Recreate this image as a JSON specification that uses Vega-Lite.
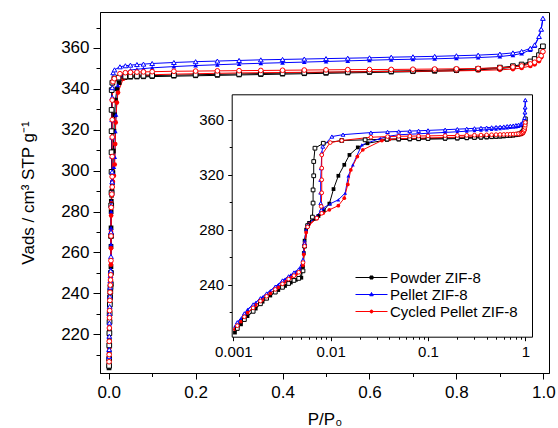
{
"$schema":"https://vega.github.io/schema/vega-lite/v6.json",
"width":449,"height":361,
"autosize":"none",
"padding":{"left":100,"top":12,"right":9,"bottom":55},
"config":{"view":{"stroke":"black","strokeWidth":1},
"axis":{"labelFont":"Liberation Sans","titleFont":"Liberation Sans","labelColor":"black","titleColor":"black","domainColor":"black","tickColor":"black","grid":false,"titleFontWeight":"normal","domainWidth":1,"tickWidth":1}},
"datasets":{"d":[
{"s":"Powder","b":"ads","P":0.0008,"V":203.5},{"s":"Powder","b":"ads","P":0.00104,"V":205},{"s":"Powder","b":"ads","P":0.0012,"V":211},{"s":"Powder","b":"ads","P":0.0014,"V":217},{"s":"Powder","b":"ads","P":0.0017,"V":222.5},{"s":"Powder","b":"ads","P":0.002,"V":227.5},{"s":"Powder","b":"ads","P":0.0024,"V":232},{"s":"Powder","b":"ads","P":0.0029,"V":236},{"s":"Powder","b":"ads","P":0.0034,"V":239},{"s":"Powder","b":"ads","P":0.0039,"V":241.5},{"s":"Powder","b":"ads","P":0.0044,"V":243.5},{"s":"Powder","b":"ads","P":0.005,"V":245},{"s":"Powder","b":"ads","P":0.0052,"V":253},{"s":"Powder","b":"ads","P":0.0053,"V":263},{"s":"Powder","b":"ads","P":0.0054,"V":272},{"s":"Powder","b":"ads","P":0.0056,"V":280},{"s":"Powder","b":"ads","P":0.006,"V":285},{"s":"Powder","b":"ads","P":0.0068,"V":288},{"s":"Powder","b":"ads","P":0.0075,"V":290},{"s":"Powder","b":"ads","P":0.0085,"V":294},{"s":"Powder","b":"ads","P":0.0097,"V":299},{"s":"Powder","b":"ads","P":0.0107,"V":309.6},{"s":"Powder","b":"ads","P":0.012,"V":319.3},{"s":"Powder","b":"ads","P":0.0138,"V":327.3},{"s":"Powder","b":"ads","P":0.0156,"V":334.5},{"s":"Powder","b":"ads","P":0.019,"V":340},{"s":"Powder","b":"ads","P":0.0239,"V":343},{"s":"Powder","b":"ads","P":0.0378,"V":345.5},
{"s":"Powder","b":"ads","P":0.05,"V":345.7},{"s":"Powder","b":"ads","P":0.065,"V":345.8},{"s":"Powder","b":"ads","P":0.08,"V":345.9},{"s":"Powder","b":"ads","P":0.1,"V":346.0},{"s":"Powder","b":"ads","P":0.15,"V":346.2},{"s":"Powder","b":"ads","P":0.2,"V":346.4},{"s":"Powder","b":"ads","P":0.25,"V":346.6},{"s":"Powder","b":"ads","P":0.3,"V":346.8},{"s":"Powder","b":"ads","P":0.35,"V":347.0},{"s":"Powder","b":"ads","P":0.4,"V":347.2},{"s":"Powder","b":"ads","P":0.45,"V":347.4},{"s":"Powder","b":"ads","P":0.5,"V":347.6},{"s":"Powder","b":"ads","P":0.55,"V":347.8},{"s":"Powder","b":"ads","P":0.6,"V":348.0},{"s":"Powder","b":"ads","P":0.65,"V":348.2},{"s":"Powder","b":"ads","P":0.7,"V":348.4},{"s":"Powder","b":"ads","P":0.75,"V":348.6},{"s":"Powder","b":"ads","P":0.8,"V":348.9},{"s":"Powder","b":"ads","P":0.85,"V":349.3},{"s":"Powder","b":"ads","P":0.9,"V":349.9},{"s":"Powder","b":"ads","P":0.93,"V":350.6},{"s":"Powder","b":"ads","P":0.95,"V":351.4},{"s":"Powder","b":"ads","P":0.97,"V":352.8},{"s":"Powder","b":"ads","P":0.98,"V":354.0},{"s":"Powder","b":"ads","P":0.99,"V":356.0},{"s":"Powder","b":"ads","P":0.995,"V":358.3},{"s":"Powder","b":"ads","P":0.999,"V":360.8},
{"s":"Powder","b":"des","P":0.0009,"V":204.5},{"s":"Powder","b":"des","P":0.0011,"V":208},{"s":"Powder","b":"des","P":0.0013,"V":214.5},{"s":"Powder","b":"des","P":0.0016,"V":220.5},{"s":"Powder","b":"des","P":0.0019,"V":226},{"s":"Powder","b":"des","P":0.0022,"V":230},{"s":"Powder","b":"des","P":0.0027,"V":234.5},{"s":"Powder","b":"des","P":0.0032,"V":238},{"s":"Powder","b":"des","P":0.0037,"V":240.8},{"s":"Powder","b":"des","P":0.0042,"V":243},{"s":"Powder","b":"des","P":0.0047,"V":244.5},{"s":"Powder","b":"des","P":0.0052,"V":250},{"s":"Powder","b":"des","P":0.0054,"V":268},{"s":"Powder","b":"des","P":0.0058,"V":283},{"s":"Powder","b":"des","P":0.0065,"V":289.2},{"s":"Powder","b":"des","P":0.0066,"V":299.4},{"s":"Powder","b":"des","P":0.0066,"V":309},{"s":"Powder","b":"des","P":0.0067,"V":319.3},{"s":"Powder","b":"des","P":0.0067,"V":329.7},{"s":"Powder","b":"des","P":0.0069,"V":339.4},{"s":"Powder","b":"des","P":0.0084,"V":343},{"s":"Powder","b":"des","P":0.013,"V":345},{"s":"Powder","b":"des","P":0.0226,"V":345.5},{"s":"Powder","b":"des","P":0.038,"V":346},
{"s":"Powder","b":"des","P":0.05,"V":346.2},{"s":"Powder","b":"des","P":0.065,"V":346.3},{"s":"Powder","b":"des","P":0.08,"V":346.4},{"s":"Powder","b":"des","P":0.1,"V":346.5},{"s":"Powder","b":"des","P":0.15,"V":346.7},{"s":"Powder","b":"des","P":0.2,"V":346.9},{"s":"Powder","b":"des","P":0.25,"V":347.1},{"s":"Powder","b":"des","P":0.3,"V":347.3},{"s":"Powder","b":"des","P":0.35,"V":347.5},{"s":"Powder","b":"des","P":0.4,"V":347.7},{"s":"Powder","b":"des","P":0.45,"V":347.9},{"s":"Powder","b":"des","P":0.5,"V":348.1},{"s":"Powder","b":"des","P":0.55,"V":348.3},{"s":"Powder","b":"des","P":0.6,"V":348.5},{"s":"Powder","b":"des","P":0.65,"V":348.7},{"s":"Powder","b":"des","P":0.7,"V":348.9},{"s":"Powder","b":"des","P":0.75,"V":349.1},{"s":"Powder","b":"des","P":0.8,"V":349.4},{"s":"Powder","b":"des","P":0.85,"V":349.8},{"s":"Powder","b":"des","P":0.9,"V":350.4},{"s":"Powder","b":"des","P":0.93,"V":351.1},{"s":"Powder","b":"des","P":0.95,"V":351.9},{"s":"Powder","b":"des","P":0.97,"V":353.4},{"s":"Powder","b":"des","P":0.98,"V":354.6},{"s":"Powder","b":"des","P":0.99,"V":356.5},{"s":"Powder","b":"des","P":0.995,"V":358.6},{"s":"Powder","b":"des","P":0.999,"V":360.8},
{"s":"Pellet","b":"ads","P":0.0008,"V":207},{"s":"Pellet","b":"ads","P":0.00104,"V":209.7},{"s":"Pellet","b":"ads","P":0.0012,"V":215},{"s":"Pellet","b":"ads","P":0.0014,"V":222},{"s":"Pellet","b":"ads","P":0.0017,"V":227},{"s":"Pellet","b":"ads","P":0.002,"V":231},{"s":"Pellet","b":"ads","P":0.0024,"V":235.5},{"s":"Pellet","b":"ads","P":0.0029,"V":240},{"s":"Pellet","b":"ads","P":0.0034,"V":244},{"s":"Pellet","b":"ads","P":0.0039,"V":247},{"s":"Pellet","b":"ads","P":0.0044,"V":249.5},{"s":"Pellet","b":"ads","P":0.0049,"V":251.8},{"s":"Pellet","b":"ads","P":0.0052,"V":256},{"s":"Pellet","b":"ads","P":0.0053,"V":264},{"s":"Pellet","b":"ads","P":0.0054,"V":272},{"s":"Pellet","b":"ads","P":0.0056,"V":280},{"s":"Pellet","b":"ads","P":0.006,"V":285},{"s":"Pellet","b":"ads","P":0.0072,"V":290},{"s":"Pellet","b":"ads","P":0.0084,"V":295.8},{"s":"Pellet","b":"ads","P":0.0099,"V":298.9},{"s":"Pellet","b":"ads","P":0.012,"V":301.8},{"s":"Pellet","b":"ads","P":0.0141,"V":306.7},{"s":"Pellet","b":"ads","P":0.0152,"V":319.3},{"s":"Pellet","b":"ads","P":0.0169,"V":327.3},{"s":"Pellet","b":"ads","P":0.0209,"V":341.8},{"s":"Pellet","b":"ads","P":0.0323,"V":346.5},{"s":"Pellet","b":"ads","P":0.04,"V":348.2},
{"s":"Pellet","b":"ads","P":0.05,"V":349.2},{"s":"Pellet","b":"ads","P":0.065,"V":349.6},{"s":"Pellet","b":"ads","P":0.08,"V":349.9},{"s":"Pellet","b":"ads","P":0.1,"V":350.3},{"s":"Pellet","b":"ads","P":0.15,"V":350.9},{"s":"Pellet","b":"ads","P":0.2,"V":351.4},{"s":"Pellet","b":"ads","P":0.25,"V":351.8},{"s":"Pellet","b":"ads","P":0.3,"V":352.2},{"s":"Pellet","b":"ads","P":0.35,"V":352.5},{"s":"Pellet","b":"ads","P":0.4,"V":352.8},{"s":"Pellet","b":"ads","P":0.45,"V":353.1},{"s":"Pellet","b":"ads","P":0.5,"V":353.4},{"s":"Pellet","b":"ads","P":0.55,"V":353.7},{"s":"Pellet","b":"ads","P":0.6,"V":354.0},{"s":"Pellet","b":"ads","P":0.65,"V":354.3},{"s":"Pellet","b":"ads","P":0.7,"V":354.5},{"s":"Pellet","b":"ads","P":0.75,"V":354.7},{"s":"Pellet","b":"ads","P":0.8,"V":355.0},{"s":"Pellet","b":"ads","P":0.85,"V":355.3},{"s":"Pellet","b":"ads","P":0.9,"V":355.8},{"s":"Pellet","b":"ads","P":0.93,"V":356.5},{"s":"Pellet","b":"ads","P":0.95,"V":357.3},{"s":"Pellet","b":"ads","P":0.97,"V":359.0},{"s":"Pellet","b":"ads","P":0.98,"V":361.0},{"s":"Pellet","b":"ads","P":0.99,"V":365.4},{"s":"Pellet","b":"ads","P":0.995,"V":369.0},{"s":"Pellet","b":"ads","P":0.999,"V":374.5},
{"s":"Pellet","b":"des","P":0.0009,"V":209},{"s":"Pellet","b":"des","P":0.0011,"V":212.5},{"s":"Pellet","b":"des","P":0.0013,"V":219},{"s":"Pellet","b":"des","P":0.0016,"V":225.5},{"s":"Pellet","b":"des","P":0.0019,"V":230},{"s":"Pellet","b":"des","P":0.0022,"V":233.5},{"s":"Pellet","b":"des","P":0.0027,"V":238.5},{"s":"Pellet","b":"des","P":0.0032,"V":243},{"s":"Pellet","b":"des","P":0.0037,"V":246},{"s":"Pellet","b":"des","P":0.0042,"V":248.8},{"s":"Pellet","b":"des","P":0.0047,"V":251},{"s":"Pellet","b":"des","P":0.0052,"V":258},{"s":"Pellet","b":"des","P":0.0054,"V":270},{"s":"Pellet","b":"des","P":0.0058,"V":283},{"s":"Pellet","b":"des","P":0.0072,"V":289},{"s":"Pellet","b":"des","P":0.008,"V":294.5},{"s":"Pellet","b":"des","P":0.0079,"V":299.4},{"s":"Pellet","b":"des","P":0.0079,"V":307.1},{"s":"Pellet","b":"des","P":0.0079,"V":316.4},{"s":"Pellet","b":"des","P":0.008,"V":324.9},{"s":"Pellet","b":"des","P":0.0081,"V":335.8},{"s":"Pellet","b":"des","P":0.0083,"V":340.6},{"s":"Pellet","b":"des","P":0.0103,"V":347.9},{"s":"Pellet","b":"des","P":0.0134,"V":349.3},{"s":"Pellet","b":"des","P":0.0259,"V":350.8},{"s":"Pellet","b":"des","P":0.0384,"V":351.3},
{"s":"Pellet","b":"des","P":0.05,"V":351.6},{"s":"Pellet","b":"des","P":0.065,"V":351.9},{"s":"Pellet","b":"des","P":0.08,"V":352.1},{"s":"Pellet","b":"des","P":0.1,"V":352.4},{"s":"Pellet","b":"des","P":0.15,"V":352.9},{"s":"Pellet","b":"des","P":0.2,"V":353.3},{"s":"Pellet","b":"des","P":0.25,"V":353.6},{"s":"Pellet","b":"des","P":0.3,"V":353.9},{"s":"Pellet","b":"des","P":0.35,"V":354.2},{"s":"Pellet","b":"des","P":0.4,"V":354.4},{"s":"Pellet","b":"des","P":0.45,"V":354.6},{"s":"Pellet","b":"des","P":0.5,"V":354.8},{"s":"Pellet","b":"des","P":0.55,"V":355.0},{"s":"Pellet","b":"des","P":0.6,"V":355.2},{"s":"Pellet","b":"des","P":0.65,"V":355.5},{"s":"Pellet","b":"des","P":0.7,"V":355.7},{"s":"Pellet","b":"des","P":0.75,"V":355.9},{"s":"Pellet","b":"des","P":0.8,"V":356.2},{"s":"Pellet","b":"des","P":0.85,"V":356.5},{"s":"Pellet","b":"des","P":0.9,"V":357.0},{"s":"Pellet","b":"des","P":0.93,"V":357.6},{"s":"Pellet","b":"des","P":0.95,"V":358.3},{"s":"Pellet","b":"des","P":0.97,"V":359.8},{"s":"Pellet","b":"des","P":0.98,"V":361.5},{"s":"Pellet","b":"des","P":0.99,"V":365.6},{"s":"Pellet","b":"des","P":0.995,"V":369.2},{"s":"Pellet","b":"des","P":0.999,"V":374.5},
{"s":"Cycled","b":"ads","P":0.0008,"V":205},{"s":"Cycled","b":"ads","P":0.00104,"V":207.5},{"s":"Cycled","b":"ads","P":0.0012,"V":213},{"s":"Cycled","b":"ads","P":0.0014,"V":219.5},{"s":"Cycled","b":"ads","P":0.0017,"V":225},{"s":"Cycled","b":"ads","P":0.002,"V":229},{"s":"Cycled","b":"ads","P":0.0024,"V":233.5},{"s":"Cycled","b":"ads","P":0.0029,"V":238},{"s":"Cycled","b":"ads","P":0.0034,"V":242},{"s":"Cycled","b":"ads","P":0.0039,"V":245},{"s":"Cycled","b":"ads","P":0.0044,"V":247.5},{"s":"Cycled","b":"ads","P":0.0049,"V":250},{"s":"Cycled","b":"ads","P":0.0052,"V":254},{"s":"Cycled","b":"ads","P":0.0053,"V":262},{"s":"Cycled","b":"ads","P":0.0054,"V":270},{"s":"Cycled","b":"ads","P":0.0056,"V":278},{"s":"Cycled","b":"ads","P":0.006,"V":284},{"s":"Cycled","b":"ads","P":0.0072,"V":288},{"s":"Cycled","b":"ads","P":0.0084,"V":292.1},{"s":"Cycled","b":"ads","P":0.0097,"V":294.5},{"s":"Cycled","b":"ads","P":0.012,"V":297.5},{"s":"Cycled","b":"ads","P":0.0138,"V":303},{"s":"Cycled","b":"ads","P":0.015,"V":313},{"s":"Cycled","b":"ads","P":0.0161,"V":323.6},{"s":"Cycled","b":"ads","P":0.0188,"V":333.3},{"s":"Cycled","b":"ads","P":0.0214,"V":338.2},{"s":"Cycled","b":"ads","P":0.0336,"V":345},{"s":"Cycled","b":"ads","P":0.04,"V":345.8},
{"s":"Cycled","b":"ads","P":0.05,"V":346.3},{"s":"Cycled","b":"ads","P":0.065,"V":346.5},{"s":"Cycled","b":"ads","P":0.08,"V":346.7},{"s":"Cycled","b":"ads","P":0.1,"V":346.9},{"s":"Cycled","b":"ads","P":0.15,"V":347.2},{"s":"Cycled","b":"ads","P":0.2,"V":347.4},{"s":"Cycled","b":"ads","P":0.25,"V":347.6},{"s":"Cycled","b":"ads","P":0.3,"V":347.8},{"s":"Cycled","b":"ads","P":0.35,"V":347.9},{"s":"Cycled","b":"ads","P":0.4,"V":348.0},{"s":"Cycled","b":"ads","P":0.45,"V":348.1},{"s":"Cycled","b":"ads","P":0.5,"V":348.2},{"s":"Cycled","b":"ads","P":0.55,"V":348.3},{"s":"Cycled","b":"ads","P":0.6,"V":348.4},{"s":"Cycled","b":"ads","P":0.65,"V":348.5},{"s":"Cycled","b":"ads","P":0.7,"V":348.6},{"s":"Cycled","b":"ads","P":0.75,"V":348.7},{"s":"Cycled","b":"ads","P":0.8,"V":348.8},{"s":"Cycled","b":"ads","P":0.85,"V":349.0},{"s":"Cycled","b":"ads","P":0.9,"V":349.3},{"s":"Cycled","b":"ads","P":0.93,"V":349.7},{"s":"Cycled","b":"ads","P":0.95,"V":350.2},{"s":"Cycled","b":"ads","P":0.97,"V":351.2},{"s":"Cycled","b":"ads","P":0.98,"V":352.0},{"s":"Cycled","b":"ads","P":0.99,"V":353.6},{"s":"Cycled","b":"ads","P":0.995,"V":355.5},{"s":"Cycled","b":"ads","P":0.999,"V":358.2},
{"s":"Cycled","b":"des","P":0.0009,"V":206.5},{"s":"Cycled","b":"des","P":0.0011,"V":210},{"s":"Cycled","b":"des","P":0.0013,"V":216.5},{"s":"Cycled","b":"des","P":0.0016,"V":223},{"s":"Cycled","b":"des","P":0.0019,"V":228},{"s":"Cycled","b":"des","P":0.0022,"V":231.5},{"s":"Cycled","b":"des","P":0.0027,"V":236.5},{"s":"Cycled","b":"des","P":0.0032,"V":240.5},{"s":"Cycled","b":"des","P":0.0037,"V":244},{"s":"Cycled","b":"des","P":0.0042,"V":246.5},{"s":"Cycled","b":"des","P":0.0047,"V":249},{"s":"Cycled","b":"des","P":0.0052,"V":256},{"s":"Cycled","b":"des","P":0.0054,"V":268},{"s":"Cycled","b":"des","P":0.0058,"V":282},{"s":"Cycled","b":"des","P":0.0072,"V":288.5},{"s":"Cycled","b":"des","P":0.0081,"V":292},{"s":"Cycled","b":"des","P":0.008,"V":297},{"s":"Cycled","b":"des","P":0.0081,"V":306.9},{"s":"Cycled","b":"des","P":0.0081,"V":316.4},{"s":"Cycled","b":"des","P":0.0081,"V":324.9},{"s":"Cycled","b":"des","P":0.0081,"V":334.5},{"s":"Cycled","b":"des","P":0.0099,"V":343.5},{"s":"Cycled","b":"des","P":0.013,"V":345},{"s":"Cycled","b":"des","P":0.0259,"V":347.4},{"s":"Cycled","b":"des","P":0.0384,"V":347.9},
{"s":"Cycled","b":"des","P":0.05,"V":348.1},{"s":"Cycled","b":"des","P":0.065,"V":348.2},{"s":"Cycled","b":"des","P":0.08,"V":348.3},{"s":"Cycled","b":"des","P":0.1,"V":348.4},{"s":"Cycled","b":"des","P":0.15,"V":348.6},{"s":"Cycled","b":"des","P":0.2,"V":348.7},{"s":"Cycled","b":"des","P":0.25,"V":348.8},{"s":"Cycled","b":"des","P":0.3,"V":348.9},{"s":"Cycled","b":"des","P":0.35,"V":349.0},{"s":"Cycled","b":"des","P":0.4,"V":349.1},{"s":"Cycled","b":"des","P":0.45,"V":349.2},{"s":"Cycled","b":"des","P":0.5,"V":349.3},{"s":"Cycled","b":"des","P":0.55,"V":349.4},{"s":"Cycled","b":"des","P":0.6,"V":349.45},{"s":"Cycled","b":"des","P":0.65,"V":349.5},{"s":"Cycled","b":"des","P":0.7,"V":349.6},{"s":"Cycled","b":"des","P":0.75,"V":349.7},{"s":"Cycled","b":"des","P":0.8,"V":349.8},{"s":"Cycled","b":"des","P":0.85,"V":350.0},{"s":"Cycled","b":"des","P":0.9,"V":350.3},{"s":"Cycled","b":"des","P":0.93,"V":350.7},{"s":"Cycled","b":"des","P":0.95,"V":351.2},{"s":"Cycled","b":"des","P":0.97,"V":352.2},{"s":"Cycled","b":"des","P":0.98,"V":353.0},{"s":"Cycled","b":"des","P":0.99,"V":354.5},{"s":"Cycled","b":"des","P":0.995,"V":356.2},{"s":"Cycled","b":"des","P":0.999,"V":358.2}
]},
"data":{"name":"d"},
"layer":[
{"encoding":{
"x":{"field":"P","type":"quantitative","scale":{"domain":[-0.02,1.013],"nice":false,"zero":false},"axis":{"orient":"bottom","values":[0,0.2,0.4,0.6,0.8,1],"format":".1f","labelFontSize":17,"tickSize":6,"labelPadding":5,"title":"P/P₀","titleFontSize":17,"titlePadding":11}},
"y":{"field":"V","type":"quantitative","scale":{"domain":[201,377.6],"nice":false,"zero":false},"axis":{"orient":"left","values":[220,240,260,280,300,320,340,360],"labelFontSize":17,"tickSize":7,"labelPadding":4,"title":"Vads  / cm³ STP g⁻¹","titleFontSize":17,"titlePadding":23}}},
"layer":[
{"mark":{"type":"line","strokeWidth":1,"clip":true},"encoding":{"color":{"field":"s","type":"nominal","scale":{"domain":["Powder","Pellet","Cycled"],"range":["#000000","#0000ff","#ff0000"]},
"legend":{"orient":"none","legendX":264,"legendY":258,"title":null,"padding":0,"labelFont":"Liberation Sans","labelFontSize":15,"labelColor":"black","labelOffset":11,"symbolSize":100,"rowPadding":1,
"labelExpr":"datum.value == 'Powder' ? 'Powder ZIF-8' : datum.value == 'Pellet' ? 'Pellet ZIF-8' : 'Cycled Pellet ZIF-8'",
"encode":{"symbols":{"update":{"shape":{"signal":"datum.value == 'Powder' ? 'M-3.2,0H3.2M-0.3,-0.3H0.3V0.3H-0.3Z' : datum.value == 'Pellet' ? 'M-3.2,0H3.2M0,-0.4L0.35,0.25H-0.35Z' : 'M-3.2,0H3.2M0.3,0A0.3,0.3,0,1,1,-0.3,0A0.3,0.3,0,1,1,0.3,0Z'"},"fill":{"signal":"scale('color', datum.value)"},"stroke":{"signal":"scale('color', datum.value)"},"strokeWidth":{"value":1},"size":{"value":100},"opacity":{"value":1}}}}}},
"detail":{"field":"b"},"order":{"field":"V","type":"quantitative"}}},
{"transform":[{"filter":"datum.b == 'ads'"}],"mark":{"type":"point","filled":true,"size":22,"opacity":1,"clip":true},"encoding":{"color":{"field":"s","type":"nominal","legend":null},"shape":{"field":"s","type":"nominal","scale":{"domain":["Pellet","Powder","Cycled"],"range":["triangle-up","square","circle"]},"legend":null}}},
{"transform":[{"filter":"datum.b == 'des'"}],"mark":{"type":"point","filled":false,"fill":"white","size":22,"strokeWidth":1,"opacity":1,"clip":true},"encoding":{"color":{"field":"s","type":"nominal","legend":null},"shape":{"field":"s","type":"nominal","scale":{"domain":["Pellet","Powder","Cycled"],"range":["triangle-up","square","circle"]},"legend":null}}}
]},
{"mark":{"type":"point","opacity":0},"encoding":{
"x":{"field":"P","type":"quantitative","scale":{"domain":[-0.02,1.013],"nice":false,"zero":false},"axis":{"orient":"bottom","values":[0.1,0.3,0.5,0.7,0.9],"labels":false,"domain":false,"tickSize":3.5,"title":null}},
"y":{"field":"V","type":"quantitative","scale":{"domain":[201,377.6],"nice":false,"zero":false},"axis":{"orient":"left","values":[210,230,250,270,290,310,330,350,370],"labels":false,"domain":false,"tickSize":4,"title":null}}}},
{"transform":[{"filter":"datum.P >= 0.00097"}],
"encoding":{
"x":{"field":"P","type":"quantitative","scale":{"type":"log","domain":[0.000963,1.17],"range":[131.7,432],"nice":false},"axis":{"orient":"bottom","offset":-36.3,"values":[0.001,0.01,0.1,1],"format":"~g","labelFontSize":15,"tickSize":4,"labelPadding":4,"title":null}},
"y":{"field":"V","type":"quantitative","scale":{"domain":[202,378.7],"range":[324.7,82.3],"nice":false,"zero":false},"axis":{"orient":"left","offset":-131.7,"values":[240,280,320,360],"labelFontSize":15,"tickSize":4,"labelPadding":4,"title":null}}},
"layer":[
{"mark":{"type":"line","strokeWidth":1,"clip":true},"encoding":{"color":{"field":"s","type":"nominal","legend":null},"detail":{"field":"b"},"order":{"field":"V","type":"quantitative"}}},
{"transform":[{"filter":"datum.b == 'ads'"}],"mark":{"type":"point","filled":true,"size":14,"opacity":1},"encoding":{"color":{"field":"s","type":"nominal","legend":null},"shape":{"field":"s","type":"nominal","legend":null}}},
{"transform":[{"filter":"datum.b == 'des'"}],"mark":{"type":"point","filled":false,"fill":"white","size":14,"strokeWidth":1,"opacity":1},"encoding":{"color":{"field":"s","type":"nominal","legend":null},"shape":{"field":"s","type":"nominal","legend":null}}}
]},
{"transform":[{"filter":"datum.P >= 0.00097"}],"mark":{"type":"point","opacity":0},"encoding":{
"x":{"field":"P","type":"quantitative","scale":{"type":"log","domain":[0.000963,1.17],"range":[131.7,432],"nice":false},"axis":{"orient":"bottom","offset":-36.3,"values":[0.002,0.003,0.004,0.005,0.006,0.007,0.008,0.009,0.02,0.03,0.04,0.05,0.06,0.07,0.08,0.09,0.2,0.3,0.4,0.5,0.6,0.7,0.8,0.9],"labels":false,"domain":false,"tickSize":2.5,"title":null}},
"y":{"field":"V","type":"quantitative","scale":{"domain":[202,378.7],"range":[324.7,82.3],"nice":false,"zero":false},"axis":{"orient":"left","offset":-131.7,"values":[220,260,300,340],"labels":false,"domain":false,"tickSize":2.5,"title":null}}}},
{"transform":[{"filter":"datum.P >= 0.00097"}],"mark":{"type":"point","opacity":0},"encoding":{
"x":{"field":"P","type":"quantitative","scale":{"type":"log","domain":[0.000963,1.17],"range":[131.7,432],"nice":false},"axis":{"orient":"top","offset":-82.3,"labels":false,"ticks":false,"domain":true,"title":null}},
"y":{"field":"V","type":"quantitative","scale":{"domain":[202,378.7],"range":[324.7,82.3],"nice":false,"zero":false},"axis":{"orient":"right","offset":-17,"labels":false,"ticks":false,"domain":true,"title":null}}}}
],
"resolve":{"scale":{"x":"independent","y":"independent"},"axis":{"x":"independent","y":"independent"}}
}
